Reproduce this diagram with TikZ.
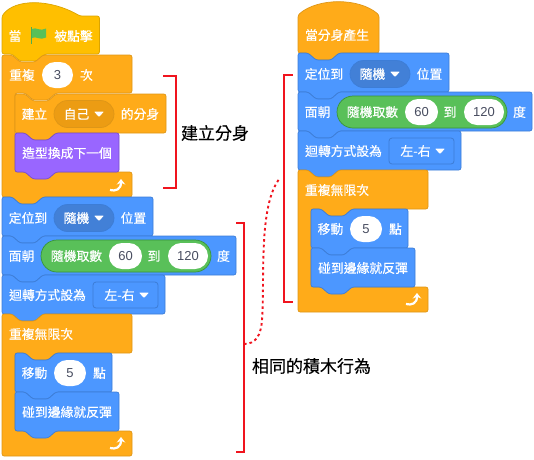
\documentclass[tikz,border=0pt]{standalone}
\usepackage{fontspec}
\usepackage{xcolor}
\usetikzlibrary{arrows.meta, shapes.misc}
\setmainfont{Liberation Sans}
\newfontfamily\cjk[FakeBold=0.2]{Noto Sans CJK TC}
\newfontfamily\cjkblock[FakeBold=0.45]{Noto Sans CJK TC}

\definecolor{motionblue}{HTML}{4C97FF}
\definecolor{motionedge}{HTML}{3D7DD6}
\definecolor{motiondark}{HTML}{4280D7}
\definecolor{ctrlorange}{HTML}{FFAB19}
\definecolor{ctrledge}{HTML}{DE9617}
\definecolor{ctrldark}{HTML}{EC9C13}
\definecolor{hatyellow}{HTML}{FFBF00}
\definecolor{hatedge}{HTML}{DBA400}
\definecolor{looksviolet}{HTML}{9966FF}
\definecolor{looksedge}{HTML}{774DCB}
\definecolor{opgreen}{HTML}{59C059}
\definecolor{opedge}{HTML}{389438}
\definecolor{numgray}{HTML}{484D60}
\definecolor{markred}{HTML}{F0141E}

\tikzset{
  bkbase/.style={line width=0.7pt, rounded corners=2.2pt, line join=round},
  motionbk/.style={bkbase, fill=motionblue, draw=motionedge},
  ctrlbk/.style={bkbase, fill=ctrlorange, draw=ctrledge},
  looksbk/.style={bkbase, fill=looksviolet, draw=looksedge},
  hatbk/.style={bkbase, fill=hatyellow, draw=hatedge},
  bktext/.style={inner sep=0pt, text=white, font=\cjkblock\fontsize{12.8}{14}\selectfont},
  marktext/.style={inner sep=0pt, text=black, font=\cjk\fontsize{17}{19}\selectfont},
  pill/.style={rounded rectangle, inner sep=0pt, minimum height=26pt, fill=white, text=numgray, font=\fontsize{13}{14}\selectfont},
  droppill/.style={rounded rectangle, inner sep=0pt, minimum width=60pt, minimum height=27pt, line width=0.7pt},
  markline/.style={draw=markred, line width=1.5pt},
}

% one stack block: x, y, width, height
\newcommand{\stackblock}[5][motionbk]{%
  \draw[#1] (#2,#3) -- ++(10,0) -- ++(8,7) -- ++(15,0) -- ++(8,-7) -- ++(#4-41,0) -- ++(0,#5)
    -- ++(-#4+41,0) -- ++(-8,7) -- ++(-15,0) -- ++(-8,-7) -- ++(-10,0) -- cycle;
}
% C block: x, y, width, head height, mouth height, foot height, bump depth
\newcommand{\cblock}[7]{%
  \draw[ctrlbk] (#1,#2) -- ++(10,0) -- ++(8,7) -- ++(15,0) -- ++(8,-7) -- ++(#3-41,0) -- ++(0,#4)
    -- ++(-#3+54,0) -- ++(-8,7) -- ++(-15,0) -- ++(-8,-7) -- ++(-10,0) -- ++(0,#5) -- ++(#3-13,0) -- ++(0,#6)
    -- ++(-#3+41,0) -- ++(-8,#7) -- ++(-15,0) -- ++(-8,-#7) -- ++(-10,0) -- cycle;
}
\newcommand{\dropcaret}[2]{%
  \fill[white, rounded corners=0.8pt] (#1-5,#2-2.5) -- ++(10,0) -- ++(-5,5.5) -- cycle;
}
\newcommand{\loopback}[2]{%
  \draw[white, line width=2.2pt, -{Stealth[length=5.5pt,width=8.5pt]}] (#1-7.5,#2+4.5) .. controls (#1-2,#2+6) and (#1+3.5,#2+4) .. (#1+3.5,#2-6.5);
}

\tikzset{
  pics/motionstack/.style={code={
    % position, direction, rotation
    \stackblock{0}{0}{151}{39}
    \node[bktext] (posn) at (26,21) {定位到};
    \node[droppill, fill=motiondark, draw=motionedge] (posnpill) at (82,21) {};
    \node[bktext] (posnval) at (74.5,21) {隨機};
    \dropcaret{97}{21}
    \node[bktext] (posnend) at (131.5,21) {位置};
    \stackblock{0}{39}{234}{39}
    \node[bktext] (face) at (19.5,59) {面朝};
    \node[rounded rectangle, minimum width=170pt, minimum height=32pt, inner sep=0pt, fill=opgreen, draw=opedge, line width=0.7pt] (facepill) at (124,59) {};
    \node[bktext] (facerand) at (74.5,59) {隨機取數};
    \node[pill, minimum width=33pt] (facelow) at (123.5,59) {60};
    \node[bktext] (faceto) at (152,59) {到};
    \node[pill, minimum width=40pt] (facehigh) at (186,59) {120};
    \node[bktext] (faceend) at (221.5,59) {度};
    \stackblock{0}{78}{163}{39}
    \node[bktext] (rota) at (45.5,98) {迴轉方式設為};
    \node[draw=motionedge, line width=0.8pt, rounded corners=3pt, minimum width=65pt, minimum height=26pt, inner sep=0pt] (rotabox) at (123.5,98) {};
    \node[bktext] (rotaval) at (117.5,98) {左-右};
    \dropcaret{142}{98}
    % forever loop
    \cblock{0}{117}{130}{39}{78}{25}{0}
    \node[bktext] (loop) at (39,137) {重複無限次};
    \stackblock{13}{156}{97}{39}
    \node[bktext] (move) at (32.5,176) {移動};
    \node[pill, minimum width=32pt] (movenum) at (68,176) {5};
    \node[bktext] (moveend) at (97.5,176) {點};
    \stackblock{13}{195}{104}{39}
    \node[bktext] (edge) at (65,215) {碰到邊緣就反彈};
    \loopback{115.5}{246.5}
  }},
}

\begin{document}
\begin{tikzpicture}[x=1pt, y=-1pt, >=Stealth]
  \useasboundingbox (0,0) rectangle (534,459);
  % left script, top part
  \draw[hatbk] (2,16) .. controls (15,-1.3) and (50,-1.3) .. (80,16) -- (99.5,16) -- (99.5,54)
    -- (45,54) -- (37,61) -- (20,61) -- (12,54) -- (2,54) -- cycle;
  \node[bktext] (flagwhen) at (15,36) {當};
  \fill[opgreen!90!black] (30.5,27) rectangle (32,43.5);
  \fill[opgreen] (32,29) .. controls (36,26.5) and (40,32) .. (46,28.5) -- (46,37.5) .. controls (40,41) and (36,35.5) .. (32,38) -- cycle;
  \node[bktext] (flagclick) at (73.5,36) {被點擊};
  \cblock{2}{55}{130}{38}{79}{25}{7}
  \node[bktext] (rept) at (22,75) {重複};
  \node[pill, minimum width=31pt] (reptnum) at (57.5,75) {3};
  \node[bktext] (reptend) at (86.5,75) {次};
  \stackblock[ctrlbk]{15}{94}{151}{39}
  \node[bktext] (clone) at (34.5,114) {建立};
  \node[droppill, fill=ctrldark, draw=ctrledge] (clonepill) at (84,114) {};
  \node[bktext] (cloneval) at (76.5,114) {自己};
  \dropcaret{99}{114}
  \node[bktext] (cloneend) at (140,114) {的分身};
  \stackblock[looksbk]{15}{133}{104}{39}
  \node[bktext] (costume) at (67,153) {造型換成下一個};
  \loopback{117.5}{185.5}
  \pic (leftmotion) at (2,197) {motionstack};
  % right script
  \draw[ctrlbk] (298,15) .. controls (318,-2.3) and (359,-2.3) .. (379,15) -- (379,53)
    -- (341,53) -- (333,60) -- (316,60) -- (308,53) -- (298,53) -- cycle;
  \node[bktext] (clonehat) at (337,35) {當分身產生};
  \pic (rightmotion) at (298,53) {motionstack};
  % red marks
  \coordinate (cloneT) at (163,76);
  \coordinate (cloneB) at (163,188);
  \coordinate (sameT) at (236,223);
  \coordinate (sameB) at (236,452);
  \coordinate (rightT) at (293,75);
  \coordinate (rightB) at (293,302);
  \coordinate (sameTick) at (244,344);
  \coordinate (rightTick) at (280,178);
  \draw[markline] (cloneT) -- ++(13,0) |- (cloneB);
  \draw[markline] (sameT) -- ++(8,0) |- (sameB);
  \draw[markline] (rightT) -- ++(-9,0) |- (rightB);
  \draw[draw=markred, line width=1.9pt, dash pattern=on 2.6pt off 3pt]
    (sameTick) .. controls (256,344) and (261,335) .. (262,320)
    .. controls (265,280) and (258,205) .. (rightTick);
  \node[marktext] (clonemark) at (215,133) {建立分身};
  \node[marktext] (samemark) at (311.5,366) {相同的積木行為};
\end{tikzpicture}
\end{document}
